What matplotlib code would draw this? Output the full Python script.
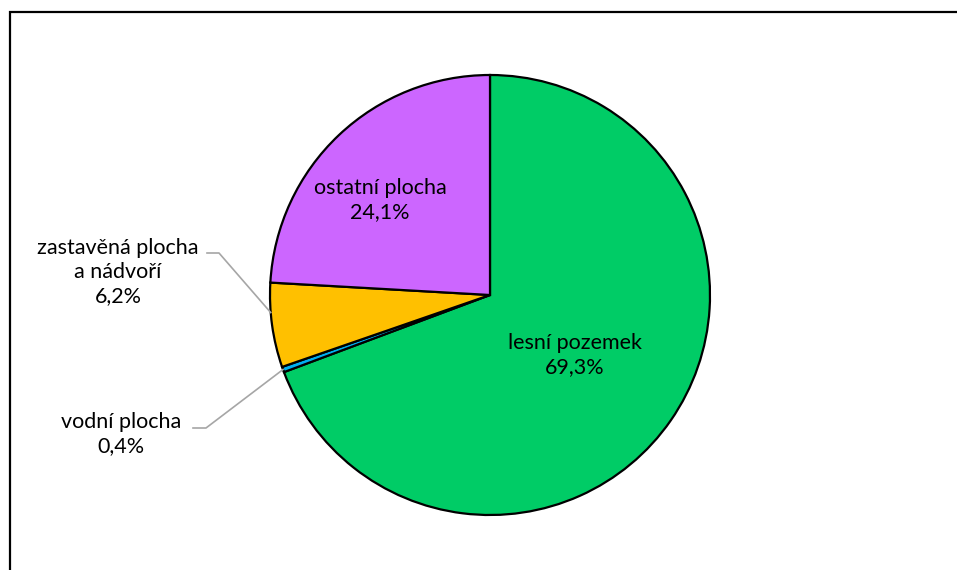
import numpy as np
import matplotlib.pyplot as plt
from matplotlib.patches import Rectangle

# data
categories = ['lesní pozemek', 'vodní plocha', 'zastavěná plocha\na nádvoří', 'ostatní plocha']
shares = [69.3, 0.4, 6.2, 24.1]
colors = ['#00CC66', '#00B0F0', '#FFC000', '#CC66FF']

W, H = 957, 570
plt.rcParams['font.family'] = ['Lato', 'DejaVu Sans']

fig = plt.figure(figsize=(W / 100, H / 100), dpi=100)
ax = fig.add_axes([0, 0, 1, 1])

# chart frame (cut at right and bottom edge like the source)
ax.add_patch(Rectangle((9.5, -20), W + 20, H - 12 + 20, fill=False,
                       edgecolor='black', linewidth=1.6))

cx, cy, r = 490, H - 295, 220
wedges, _ = ax.pie(shares, colors=colors, startangle=90, counterclock=False,
                   center=(cx, cy), radius=r, frame=True,
                   wedgeprops=dict(edgecolor='black', linewidth=1.6))
ax.set_xlim(0, W)
ax.set_ylim(0, H)
ax.set_aspect('equal')
ax.axis('off')

def lab(i):
    return f"{categories[i]}\n{shares[i]:.1f}%".replace('.', ',')

fs = 15.5
ls = 1.25
# labels inside
ax.text(575, H - 355, lab(0), ha='center', va='center', fontsize=fs, linespacing=ls)
ax.text(380, H - 200, lab(3), ha='center', va='center', fontsize=fs, linespacing=ls)
# labels outside with leader lines
ax.text(118, H - 272, lab(2), ha='center', va='center', fontsize=fs, linespacing=ls)
ax.text(121, H - 434, lab(1), ha='center', va='center', fontsize=fs, linespacing=ls)

def edge(w, frac):
    a = np.deg2rad(w.theta1 + (w.theta2 - w.theta1) * frac)
    return cx + r * np.cos(a), cy + r * np.sin(a)

ex, ey = edge(wedges[2], 0.35)
ax.plot([207, 219, ex], [H - 253, H - 253, ey], color='#A6A6A6', lw=1.2)
ex, ey = edge(wedges[1], 0.5)
ax.plot([193, 206, ex], [H - 428, H - 428, ey], color='#A6A6A6', lw=1.2)

fig.savefig('out.png', dpi=100)
